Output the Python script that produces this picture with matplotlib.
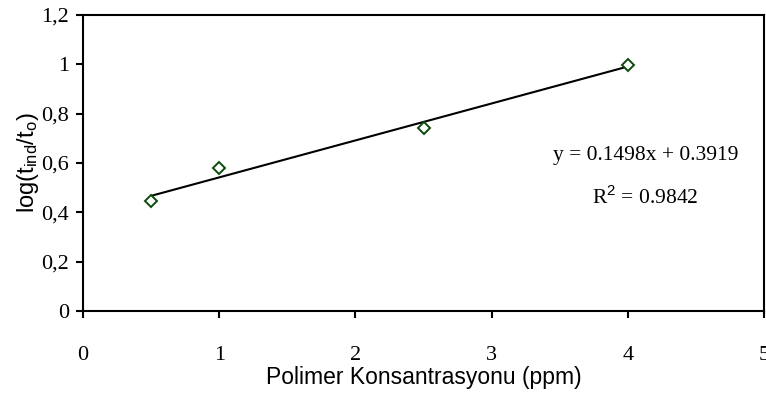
import numpy as np
import matplotlib

matplotlib.use("Agg")
import matplotlib.pyplot as plt
from matplotlib import font_manager

# polymer concentration (ppm) vs log(t_ind/t_o)
konsantrasyon = [0.5, 1.0, 2.5, 4.0]
log_oran = [0.447, 0.580, 0.742, 0.998]
egim = 0.1498
kesisim = 0.3919
r2 = 0.9842

x_ticks = [0, 1, 2, 3, 4, 5]
y_ticks = [0, 0.2, 0.4, 0.6, 0.8, 1.0, 1.2]
y_tick_labels = ["0", "0,2", "0,4", "0,6", "0,8", "1", "1,2"]

names = {f.name for f in font_manager.fontManager.ttflist}
sans = "Liberation Sans Narrow" if "Liberation Sans Narrow" in names else "Liberation Sans"
serif = "Liberation Serif"

plt.rcParams["mathtext.fontset"] = "custom"
plt.rcParams["mathtext.rm"] = sans
plt.rcParams["mathtext.it"] = sans

fig = plt.figure(figsize=(7.66, 4.05), dpi=100)
ax = fig.add_axes([83 / 766, 1 - 311 / 405, 681 / 766, 296 / 405])

fit_x = np.array([konsantrasyon[0], konsantrasyon[-1]])
ax.plot(fit_x, egim * fit_x + kesisim, color="black", linewidth=1.5, zorder=2)
ax.plot(konsantrasyon, log_oran, linestyle="none", marker="D", markersize=6,
        markerfacecolor="white", markeredgecolor="#0b4a0b", markeredgewidth=1.4, zorder=3)

ax.set_xlim(0, 5)
ax.set_ylim(0, 1.2)
ax.set_xticks(x_ticks)
ax.set_xticklabels([str(t) for t in x_ticks], fontfamily=serif, fontsize=16)
ax.set_yticks(y_ticks)
ax.set_yticklabels(y_tick_labels, fontfamily=serif, fontsize=16)
ax.tick_params(direction="out", length=5, width=1.5, pad=20, axis="x")
ax.tick_params(direction="out", length=5, width=1.5, pad=5, axis="y")

for s in ax.spines.values():
    s.set_linewidth(1.5)

ax.set_xlabel("Polimer Konsantrasyonu (ppm)", fontfamily=sans, fontsize=16.5, labelpad=1)
ax.set_ylabel(r"log(t$_{\mathrm{ind}}$/t$_{\mathrm{o}}$)", fontfamily=sans, fontsize=17, labelpad=0)

ax.text(4.13, 0.63, "y = %.4fx + %.4f" % (egim, kesisim), fontfamily=serif, fontsize=15.5,
        ha="center", va="center")
ax.text(4.13, 0.46, "R$^{2}$ = %.4f" % r2, fontfamily=serif, fontsize=15.5,
        ha="center", va="center")

fig.savefig("out.png", dpi=100)
